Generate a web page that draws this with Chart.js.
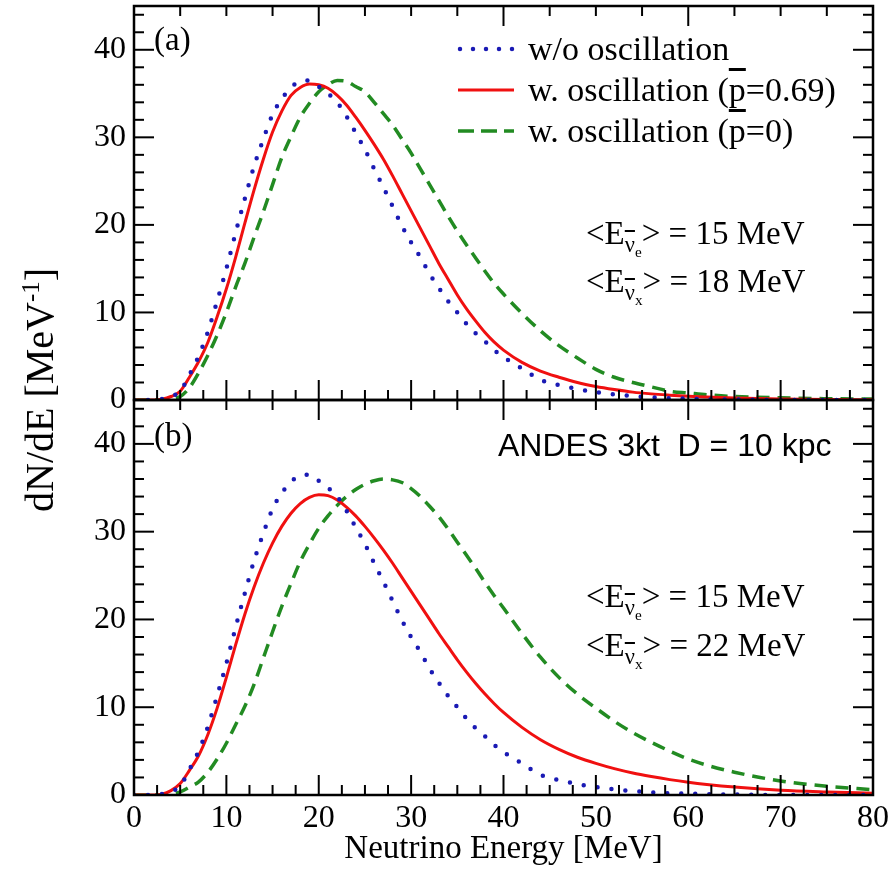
<!DOCTYPE html>
<html>
<head>
<meta charset="utf-8">
<script src="https://cdn.jsdelivr.net/npm/chart.js@4.4.1/dist/chart.umd.min.js"></script>
<style>
  body { margin: 0; background: #fff; }
  #wrap { position: relative; width: 891px; height: 873px; background: #fff; font-family: "Liberation Serif", serif; color: #000; }
  canvas { position: absolute; left: 0; }
  .txt { position: absolute; white-space: pre; line-height: 1; }
  .legend { position: absolute; left: 456px; top: 28px; font-size: 34px; }
  .legend .row { display: flex; align-items: center; height: 41px; white-space: pre; }
  .legend svg { width: 62px; height: 12px; margin-right: 10px; }
  .ov { text-decoration: overline; }
  sub { font-size: 0.68em; vertical-align: -0.35em; line-height: 0; }
  sup { font-size: 0.62em; line-height: 0; }
</style>
</head>
<body>
<div id="wrap">
  <canvas id="chartA" width="891" height="430" style="top:0"></canvas>
  <canvas id="chartB" width="891" height="483" style="top:390px"></canvas>

  <div class="txt" style="left:40px; top:390px; font-size:40px; transform:translate(-50%,-50%) rotate(-90deg);">dN/dE [MeV<sup>-1</sup>]</div>

  <div class="txt" style="left:154px; top:23px; font-size:33px;">(a)</div>
  <div class="txt" style="left:154px; top:419px; font-size:33px;">(b)</div>

  <div class="legend">
    <div class="row"><svg viewBox="0 0 62 12"><line x1="4" y1="6" x2="58" y2="6" stroke="#1a1ab4" stroke-width="4.5" stroke-linecap="round" stroke-dasharray="0 13"/></svg>w/o oscillation</div>
    <div class="row"><svg viewBox="0 0 62 12"><line x1="2" y1="6" x2="58" y2="6" stroke="#f01010" stroke-width="3"/></svg>w. oscillation (<span class="ov">p</span>=0.69)</div>
    <div class="row"><svg viewBox="0 0 62 12"><line x1="2" y1="6" x2="58" y2="6" stroke="#228b22" stroke-width="3.5" stroke-dasharray="16 7"/></svg>w. oscillation (<span class="ov">p</span>=0)</div>
  </div>

  <div class="txt" style="left:586px; top:217px; font-size:33px;">&lt;E<sub><span class="ov">ν</span><sub>e</sub></sub>&gt; = 15 MeV</div>
  <div class="txt" style="left:586px; top:265px; font-size:33px;">&lt;E<sub><span class="ov">ν</span><sub>x</sub></sub>&gt; = 18 MeV</div>

  <div class="txt" style="left:498px; top:429px; font-size:32px; font-family:'Liberation Sans', sans-serif;">ANDES 3kt  D = 10 kpc</div>
  <div class="txt" style="left:586px; top:580px; font-size:33px;">&lt;E<sub><span class="ov">ν</span><sub>e</sub></sub>&gt; = 15 MeV</div>
  <div class="txt" style="left:586px; top:629px; font-size:33px;">&lt;E<sub><span class="ov">ν</span><sub>x</sub></sub>&gt; = 22 MeV</div>
</div>

<script>
// neutrino energy grid [MeV]
const energy = [0, 2, 3, 4, 5, 6, 7, 8, 9, 10, 11, 12, 13, 14, 15, 16, 17, 18, 19, 20,
  21, 22, 23, 24, 25, 26, 27, 28, 29, 30, 31, 32, 33, 34, 35, 36, 37, 38, 39, 40,
  42, 44, 46, 48, 50, 52, 54, 56, 58, 60, 62, 65, 70, 75, 80];

// w/o oscillation (same in both panels)
const noOsc = [0, 0, 0.1, 0.4, 1.0, 2.9, 5.0, 7.8, 11.3, 15.0, 19.1, 23.0, 26.7, 29.8, 32.6, 34.4, 35.7, 36.4, 36.5, 35.8,
  35.0, 34.0, 32.4, 30.5, 28.6, 26.4, 24.3, 22.1, 19.9, 18.0, 16.3, 14.4, 12.8, 11.3, 10.0, 8.7, 7.6, 6.7, 5.7, 4.9,
  3.6, 2.3, 1.7, 1.25, 0.9, 0.65, 0.45, 0.3, 0.2, 0.15, 0.1, 0.05, 0, 0, 0];

// panel (a): <E_x> = 18 MeV
const oscA069 = [0, 0, 0.1, 0.4, 1.0, 2.6, 4.4, 6.6, 9.5, 12.7, 16.3, 20.2, 24.0, 27.5, 30.6, 33.0, 34.8, 35.7, 36.1, 36.0,
  35.6, 34.8, 33.7, 32.3, 30.8, 29.2, 27.5, 25.6, 23.6, 21.6, 19.6, 17.6, 15.6, 13.8, 12.0, 10.4, 9.0, 7.7, 6.6, 5.7,
  4.3, 3.3, 2.6, 2.0, 1.55, 1.2, 0.9, 0.7, 0.55, 0.42, 0.33, 0.22, 0.12, 0.06, 0.03];
const oscA0 = [0, 0, 0, 0.15, 0.4, 1.4, 3.1, 5.1, 7.4, 10.0, 12.9, 15.6, 18.6, 21.5, 24.6, 27.7, 30.1, 32.3, 33.9, 35.2,
  36.0, 36.5, 36.4, 35.8, 35.2, 34.0, 32.7, 31.4, 29.8, 28.2, 26.4, 24.6, 22.8, 21.0, 19.3, 17.7, 16.2, 14.7, 13.3, 12.1,
  9.9, 7.9, 6.2, 4.8, 3.5, 2.6, 2.0, 1.5, 1.0, 0.8, 0.6, 0.4, 0.25, 0.15, 0.1];

// panel (b): <E_x> = 22 MeV
const oscB069 = [0, 0, 0.1, 0.5, 1.3, 2.8, 4.5, 6.9, 9.9, 13.4, 17.1, 20.6, 23.7, 26.4, 28.7, 30.6, 32.1, 33.2, 33.9, 34.2,
  34.1, 33.6, 32.8, 31.8, 30.6, 29.3, 27.9, 26.4, 24.8, 23.2, 21.6, 20.0, 18.4, 16.9, 15.4, 14.0, 12.7, 11.5, 10.4, 9.4,
  7.7, 6.3, 5.2, 4.3, 3.6, 3.0, 2.5, 2.1, 1.75, 1.45, 1.2, 0.9, 0.55, 0.35, 0.2];
const oscB0 = [0, 0, 0, 0.1, 0.35, 0.9, 1.5, 2.6, 4.1, 5.9, 8.0, 10.1, 12.6, 15.6, 18.6, 21.5, 24.1, 26.6, 28.6, 30.4,
  31.8, 33.0, 34.0, 34.8, 35.4, 35.8, 36.0, 35.9, 35.6, 34.9, 34.0, 32.9, 31.7, 30.3, 28.8, 27.3, 25.8, 24.2, 22.7, 21.3,
  18.4, 15.7, 13.4, 11.5, 9.9, 8.4, 7.1, 6.0, 5.0, 4.1, 3.4, 2.6, 1.6, 1.0, 0.6];

// axis ticks
const xTickLabels = [0, 10, 20, 30, 40, 50, 60, 70, 80];
const xMinorBottom = [2.5, 5, 7.5, 12.5, 15, 17.5, 22.5, 25, 27.5, 32.5, 35, 37.5, 42.5, 45, 47.5,
  52.5, 55, 57.5, 62.5, 65, 67.5, 72.5, 75, 77.5];
const xMajorTop = [20, 40, 60];
const xMinorTop = [5, 10, 15, 25, 30, 35, 45, 50, 55, 65, 70, 75];
const yTickLabels = [0, 10, 20, 30, 40];
const yMinor = [2, 4, 6, 8, 12, 14, 16, 18, 22, 24, 26, 28, 32, 34, 36, 38, 42, 44];

const BLUE = "#1a1ab4";
const RED = "#f01010";
const GREEN = "#228b22";

function series(values, color, kind) {
  const ds = {
    data: energy.map((e, i) => ({ x: e, y: values[i] })),
    borderColor: color,
    fill: false,
    pointRadius: 0,
    cubicInterpolationMode: "monotone"
  };
  if (kind === "dot") {
    ds.borderWidth = 4.5;
    ds.borderDash = [0, 14];
    ds.borderCapStyle = "round";
  } else if (kind === "dash") {
    ds.borderWidth = 3.5;
    ds.borderDash = [13, 8];
  } else {
    ds.borderWidth = 3;
  }
  return ds;
}

// frame plus inward tick marks, placed through the chart's own scales
const frameTicks = {
  id: "frameTicks",
  afterDraw(chart) {
    const { ctx, chartArea: a, scales: { x, y } } = chart;
    ctx.save();
    ctx.strokeStyle = "#000";
    ctx.lineWidth = 2;
    const tick = (px, py, dx, dy) => {
      ctx.beginPath();
      ctx.moveTo(px, py);
      ctx.lineTo(px + dx, py + dy);
      ctx.stroke();
    };
    xTickLabels.forEach(v => { tick(x.getPixelForValue(v), a.bottom, 0, -20); });
    xMinorBottom.forEach(v => { tick(x.getPixelForValue(v), a.bottom, 0, -10); });
    xMajorTop.forEach(v => { tick(x.getPixelForValue(v), a.top, 0, 20); });
    xMinorTop.forEach(v => { tick(x.getPixelForValue(v), a.top, 0, 10); });
    yTickLabels.forEach(v => {
      tick(a.left, y.getPixelForValue(v), 20, 0);
      tick(a.right, y.getPixelForValue(v), -20, 0);
    });
    yMinor.forEach(v => {
      tick(a.left, y.getPixelForValue(v), 10, 0);
      tick(a.right, y.getPixelForValue(v), -10, 0);
    });
    ctx.lineWidth = 2.5;
    ctx.strokeRect(a.left, a.top, a.right - a.left, a.bottom - a.top);
    ctx.restore();
  }
};

const tickFont = { family: "Liberation Serif", size: 32 };

function yScale() {
  return {
    min: 0,
    max: 45,
    afterBuildTicks: s => { s.ticks = yTickLabels.map(v => ({ value: v })); },
    afterFit: s => { s.width = 134; s.paddingTop = 0; s.paddingBottom = 0; },
    ticks: { font: tickFont, color: "#000", padding: 8 },
    grid: { display: false, drawTicks: false },
    border: { display: false }
  };
}

function makePanel(id, datasets, showX) {
  return new Chart(document.getElementById(id), {
    type: "line",
    data: { datasets },
    options: {
      responsive: false,
      animation: false,
      devicePixelRatio: 1,
      layout: { padding: showX ? { left: 0, right: 18, top: 10, bottom: 0 } : { left: 0, right: 18, top: 6, bottom: 30 } },
      plugins: { legend: { display: false }, tooltip: { enabled: false } },
      scales: {
        x: {
          type: "linear",
          min: 0,
          max: 80,
          display: showX,
          afterBuildTicks: s => { s.ticks = xTickLabels.map(v => ({ value: v })); },
          afterFit: s => {
            s.height = showX ? 78 : 0;
            s.paddingLeft = 0;
            s.paddingRight = 0;
          },
          ticks: { font: tickFont, color: "#000", padding: 4, maxRotation: 0 },
          grid: { display: false, drawTicks: false },
          border: { display: false },
          title: {
            display: true,
            text: "Neutrino Energy [MeV]",
            color: "#000",
            font: { family: "Liberation Serif", size: 33 },
            padding: { top: 0, bottom: 4 }
          }
        },
        y: yScale()
      }
    },
    plugins: [frameTicks]
  });
}

makePanel("chartA", [
  series(noOsc, BLUE, "dot"),
  series(oscA069, RED, "solid"),
  series(oscA0, GREEN, "dash")
], false);

makePanel("chartB", [
  series(noOsc, BLUE, "dot"),
  series(oscB069, RED, "solid"),
  series(oscB0, GREEN, "dash")
], true);
</script>
</body>
</html>
